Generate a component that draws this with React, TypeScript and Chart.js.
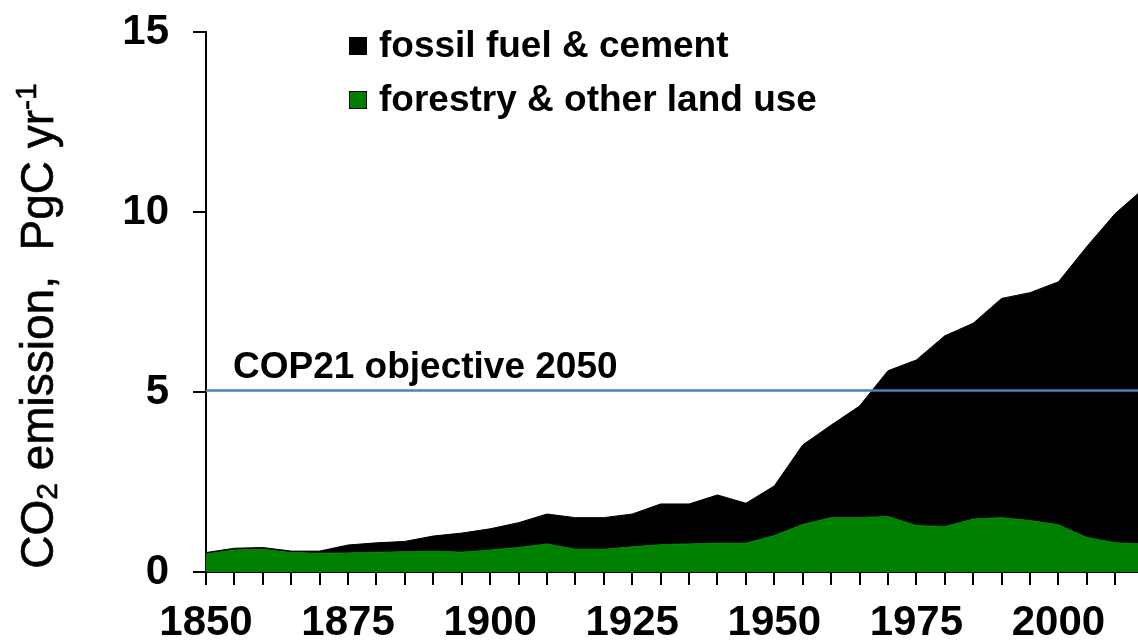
import { useEffect, useRef } from 'react';
import { Chart, registerables } from 'chart.js';

Chart.register(...registerables);

// Five-yearly emission estimates, PgC per year
const years = [
  1850, 1855, 1860, 1865, 1870, 1875, 1880, 1885, 1890, 1895,
  1900, 1905, 1910, 1915, 1920, 1925, 1930, 1935, 1940, 1945,
  1950, 1955, 1960, 1965, 1970, 1975, 1980, 1985, 1990, 1995,
  2000, 2005, 2010, 2015,
];

const fossilFuelCement = [
  0.04, 0.05, 0.05, 0.04, 0.06, 0.22, 0.26, 0.29, 0.42, 0.53,
  0.59, 0.69, 0.83, 0.88, 0.88, 0.91, 1.13, 1.11, 1.34, 1.11,
  1.38, 2.21, 2.57, 3.10, 4.05, 4.60, 5.30, 5.44, 6.09, 6.33,
  6.75, 8.08, 9.15, 9.87,
];

const forestryLandUse = [
  0.50, 0.61, 0.63, 0.54, 0.52, 0.53, 0.55, 0.56, 0.58, 0.55,
  0.61, 0.68, 0.78, 0.63, 0.63, 0.70, 0.76, 0.78, 0.80, 0.80,
  1.01, 1.32, 1.51, 1.51, 1.54, 1.29, 1.26, 1.47, 1.51, 1.43,
  1.31, 0.96, 0.81, 0.78,
];

const targetLevel = 5.04;
const targetLabel = 'COP21 objective 2050';

const seriesLabels = ['fossil fuel & cement', 'forestry & other land use'];
const seriesColors = ['#000000', '#008000'];

const yTickValues = [0, 5, 10, 15];
const xMin = 1850;
const xMax = 2014;
const xTickStep = 5;
const xLabelStep = 25;

const FONT = "'Liberation Sans', Arial, Helvetica, sans-serif";

const toPoints = (vals: number[]) => years.map((x, i) => ({ x, y: vals[i] }));

// Rotated y-axis title with a subscript 2 and a superscript -1
const yTitlePlugin = {
  id: 'yTitle',
  afterDraw(chart: any) {
    const ctx = chart.ctx as CanvasRenderingContext2D;
    const big = 46;
    const small = 30;
    const parts = [
      { t: 'CO', size: big, dy: 0 },
      { t: '2', size: small, dy: 4 },
      { t: ' emission,  PgC yr', size: big, dy: 0 },
      { t: '-1', size: small, dy: -17 },
    ];
    ctx.save();
    let total = 0;
    const widths = parts.map((p) => {
      ctx.font = `${p.size}px ${FONT}`;
      const w = ctx.measureText(p.t).width;
      total += w;
      return w;
    });
    ctx.translate(53, 326);
    ctx.rotate(-Math.PI / 2);
    ctx.fillStyle = '#000';
    ctx.strokeStyle = '#000';
    ctx.lineWidth = 0.6;
    ctx.textBaseline = 'alphabetic';
    ctx.textAlign = 'left';
    let x = -total / 2;
    parts.forEach((p, i) => {
      ctx.font = `${p.size}px ${FONT}`;
      ctx.fillText(p.t, x, p.dy);
      ctx.strokeText(p.t, x, p.dy);
      x += widths[i];
    });
    ctx.restore();
  },
};

// Legend boxes in the upper part of the plot
const legendPlugin = {
  id: 'boxLegend',
  afterDraw(chart: any) {
    const ctx = chart.ctx as CanvasRenderingContext2D;
    const rowsY = [46, 100];
    const box = 18;
    const boxX = 349;
    const textX = 379;
    ctx.save();
    ctx.font = `bold 37px ${FONT}`;
    ctx.textBaseline = 'middle';
    ctx.textAlign = 'left';
    seriesLabels.forEach((label, i) => {
      const cy = rowsY[i];
      ctx.fillStyle = seriesColors[i];
      ctx.fillRect(boxX, cy - box / 2, box, box);
      ctx.strokeStyle = '#000';
      ctx.lineWidth = 1;
      ctx.strokeRect(boxX + 0.5, cy - box / 2 + 0.5, box - 1, box - 1);
      ctx.fillStyle = '#000';
      ctx.fillText(label, textX, cy + 1);
    });
    ctx.restore();
  },
};

// Caption above the target line
const targetLabelPlugin = {
  id: 'targetLabel',
  afterDraw(chart: any) {
    const ctx = chart.ctx as CanvasRenderingContext2D;
    const y = chart.scales.y.getPixelForValue(targetLevel);
    ctx.save();
    ctx.font = `bold 37px ${FONT}`;
    ctx.fillStyle = '#000';
    ctx.textBaseline = 'alphabetic';
    ctx.textAlign = 'left';
    ctx.fillText(targetLabel, 233, y - 13);
    ctx.restore();
  },
};

export default function App() {
  const canvasRef = useRef<HTMLCanvasElement | null>(null);

  useEffect(() => {
    if (!canvasRef.current) return;
    const chart = new Chart(canvasRef.current, {
      type: 'line',
      data: {
        datasets: [
          {
            label: targetLabel,
            data: [
              { x: xMin - 1, y: targetLevel },
              { x: 2015, y: targetLevel },
            ],
            borderColor: '#4F81BD',
            borderWidth: 2.5,
            pointRadius: 0,
            fill: false,
            stack: 'target',
          } as any,
          {
            label: seriesLabels[1],
            data: toPoints(forestryLandUse),
            borderColor: seriesColors[1],
            backgroundColor: seriesColors[1],
            borderWidth: 1,
            pointRadius: 0,
            tension: 0,
            fill: 'origin',
            stack: 'emissions',
          },
          {
            label: seriesLabels[0],
            data: toPoints(fossilFuelCement),
            borderColor: seriesColors[0],
            backgroundColor: seriesColors[0],
            borderWidth: 1,
            pointRadius: 0,
            tension: 0,
            fill: '-1',
            stack: 'emissions',
          },
        ],
      },
      options: {
        animation: false,
        responsive: false,
        events: [],
        layout: { padding: { top: 32, right: 0, bottom: 0, left: 0 } },
        plugins: {
          legend: { display: false },
          tooltip: { enabled: false },
          title: { display: false },
        },
        scales: {
          x: {
            type: 'linear',
            min: xMin,
            max: xMax,
            border: { display: true, color: '#000', width: 2 },
            grid: {
              display: true,
              drawOnChartArea: false,
              drawTicks: true,
              tickLength: 13,
              color: '#000',
              lineWidth: 2,
            },
            ticks: {
              stepSize: xTickStep,
              autoSkip: false,
              includeBounds: false,
              maxRotation: 0,
              minRotation: 0,
              padding: 13,
              color: '#000',
              font: { family: FONT, size: 42, weight: 'bold' },
              callback: (v: any) => (Number(v) % xLabelStep === 0 ? String(v) : ''),
            },
            afterFit: (scale: any) => {
              scale.height = 72;
              scale.paddingLeft = 0;
              scale.paddingRight = 0;
            },
          },
          y: {
            type: 'linear',
            stacked: true,
            min: 0,
            max: 15,
            border: { display: true, color: '#000', width: 2 },
            grid: {
              display: true,
              drawOnChartArea: false,
              drawTicks: true,
              tickLength: 13,
              color: '#000',
              lineWidth: 2,
            },
            afterBuildTicks: (scale: any) => {
              scale.ticks = yTickValues.map((value) => ({ value }));
            },
            ticks: {
              stepSize: 5,
              padding: 24,
              color: '#000',
              font: { family: FONT, size: 42, weight: 'bold' },
            },
            afterFit: (scale: any) => {
              scale.width = 206;
              scale.paddingTop = 0;
              scale.paddingBottom = 0;
            },
          },
        },
      } as any,
      plugins: [yTitlePlugin, legendPlugin, targetLabelPlugin],
    });
    return () => chart.destroy();
  }, []);

  return (
    <div
      style={{
        position: 'fixed',
        left: 0,
        top: 0,
        width: 1138,
        height: 644,
        background: '#ffffff',
      }}
    >
      <canvas ref={canvasRef} width={1138} height={644} />
    </div>
  );
}
